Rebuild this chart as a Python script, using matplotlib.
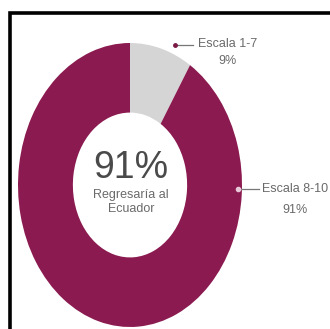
import matplotlib.pyplot as plt
from matplotlib.patches import Rectangle

# datos
labels = ['Escala 1-7', 'Escala 8-10']
values = [9, 91]
pct_labels = ['9%', '91%']
centro_valor = '91%'
centro_texto = ['Regresaría al', 'Ecuador']

purple = '#8b1a50'
gray = '#d5d5d5'
txt = '#6a6a6a'
fnt = ['Liberation Sans Narrow', 'Liberation Sans', 'DejaVu Sans']

fig = plt.figure(figsize=(3.30, 3.29), dpi=100)
fig.patch.set_facecolor('white')

# marco negro (sale del recorte por la derecha y abajo)
fig.patches.append(Rectangle((9.5 / 330, -0.2), 1.2, 1 - 12.5 / 329 + 0.2,
                             transform=fig.transFigure, fill=False,
                             edgecolor='black', linewidth=2.6))

ax = fig.add_axes([18 / 330, 1 - 327 / 329, 224 / 330, 284 / 329])
ax.pie(values, colors=[gray, purple], startangle=90, counterclock=False,
       radius=1, wedgeprops=dict(width=0.49, edgecolor='none'))
ax.set_aspect('auto')
ax.set_xlim(-1, 1)
ax.set_ylim(-1, 1)
ax.axis('off')

# etiquetas con linea guia
ax.plot([0.40, 0.56], [0.985, 0.985], color='#777777', lw=0.9, clip_on=False)
ax.plot([0.40], [0.985], 'o', ms=2.5, color='#7a1a45', clip_on=False)
ax.text(0.87, 0.99, labels[0], ha='center', va='center', fontsize=9,
        color=txt, family=fnt)
ax.text(0.87, 0.87, pct_labels[0], ha='center', va='center', fontsize=9,
        color=txt, family=fnt)

ax.plot([0.965, 1.15], [-0.025, -0.025], color='#777777', lw=0.9, clip_on=False)
ax.plot([0.965], [-0.025], 'o', ms=3, color='#e8c8d8', clip_on=False)
ax.text(1.47, -0.025, labels[1], ha='center', va='center', fontsize=9,
        color=txt, family=fnt)
ax.text(1.47, -0.175, pct_labels[1], ha='center', va='center', fontsize=9,
        color=txt, family=fnt)

# texto central
ax.text(0.01, 0.12, centro_valor, ha='center', va='center', fontsize=27,
        color='#4a4a4a', family=fnt)
ax.text(0.01, -0.07, centro_texto[0], ha='center', va='center', fontsize=9,
        color=txt, family=fnt)
ax.text(0.01, -0.17, centro_texto[1], ha='center', va='center', fontsize=9,
        color=txt, family=fnt)

fig.savefig('out.png', dpi=100, facecolor='white')
